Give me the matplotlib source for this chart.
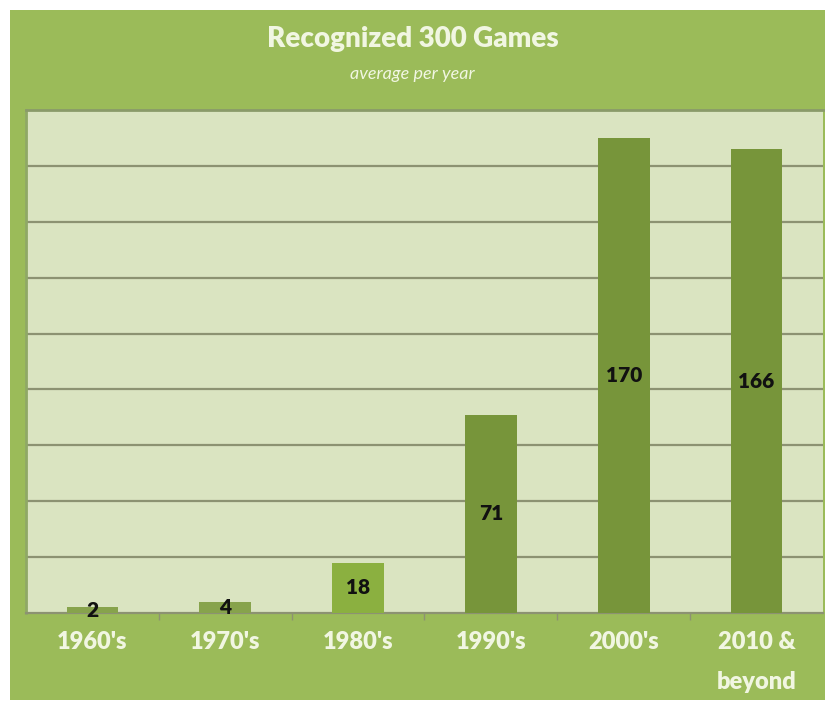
import matplotlib.pyplot as plt
from matplotlib.patches import Rectangle

# data
decades = ["1960's", "1970's", "1980's", "1990's", "2000's", "2010 &\nbeyond"]
games = [2, 4, 18, 71, 170, 166]
bar_colors = ['#87a34c', '#87a34c', '#8bb040', '#77953a', '#77953a', '#77953a']

plt.rcParams['font.family'] = ['Lato', 'DejaVu Sans']

fig = plt.figure(figsize=(8.25, 7.04), dpi=100)
fig.patch.set_facecolor('white')

# outer green panel
W, H = 825.0, 704.0
fig.patches.append(Rectangle((10 / W, 4 / H), 1 - 10 / W, (690) / H,
                             transform=fig.transFigure, facecolor='#9bbb59',
                             edgecolor='none', zorder=-10))

ax = fig.add_axes([26 / W, 91 / H, 797 / W, 503 / H])
ax.set_facecolor('#dae4c1')

x = range(len(decades))
ax.bar(x, games, width=0.39, color=bar_colors, zorder=3)
for i, v in enumerate(games):
    ax.text(i, v / 2.0, str(v), ha='center', va='center', fontsize=15,
            fontweight='heavy', color='#111111', zorder=4)

ax.set_xlim(-0.5, len(decades) - 0.5)
ax.set_ylim(0, 180)
ax.set_yticks(range(20, 180, 20))
ax.yaxis.grid(True, color='#8c9272', linewidth=1.6, zorder=1)
ax.tick_params(axis='y', left=False, labelleft=False)

ax.set_xticks([i + 0.5 for i in range(len(decades) - 1)], minor=False)
ax.set_xticklabels([])
ax.tick_params(axis='x', which='major', length=5, color='#8c9272', width=1)
ax.set_xticks(list(x), minor=True)
ax.set_xticklabels(decades, minor=True, fontsize=17, fontweight='heavy',
                   color='#f1f6e2', va='top', linespacing=2.0)
ax.tick_params(axis='x', which='minor', length=0, pad=13)

for s in ['top', 'right']:
    ax.spines[s].set_visible(False)
ax.spines['left'].set_color('#8fa866')
ax.spines['left'].set_linewidth(2)
ax.spines['bottom'].set_color('#8c9272')
ax.spines['bottom'].set_linewidth(1.6)
ax.plot([0, 1], [1, 1], transform=ax.transAxes, color='#8a9a6a',
        linewidth=2, clip_on=False, zorder=5)

fig.text(0.5, 1 - 39 / H, 'Recognized 300 Games', ha='center', va='center',
         fontsize=20, fontweight='heavy', color='#f1f6e2')
fig.text(0.5, 1 - 74 / H, 'average per year', ha='center', va='center',
         fontsize=13, style='italic', color='#f1f6e2')

fig.savefig('out.png', dpi=100)
